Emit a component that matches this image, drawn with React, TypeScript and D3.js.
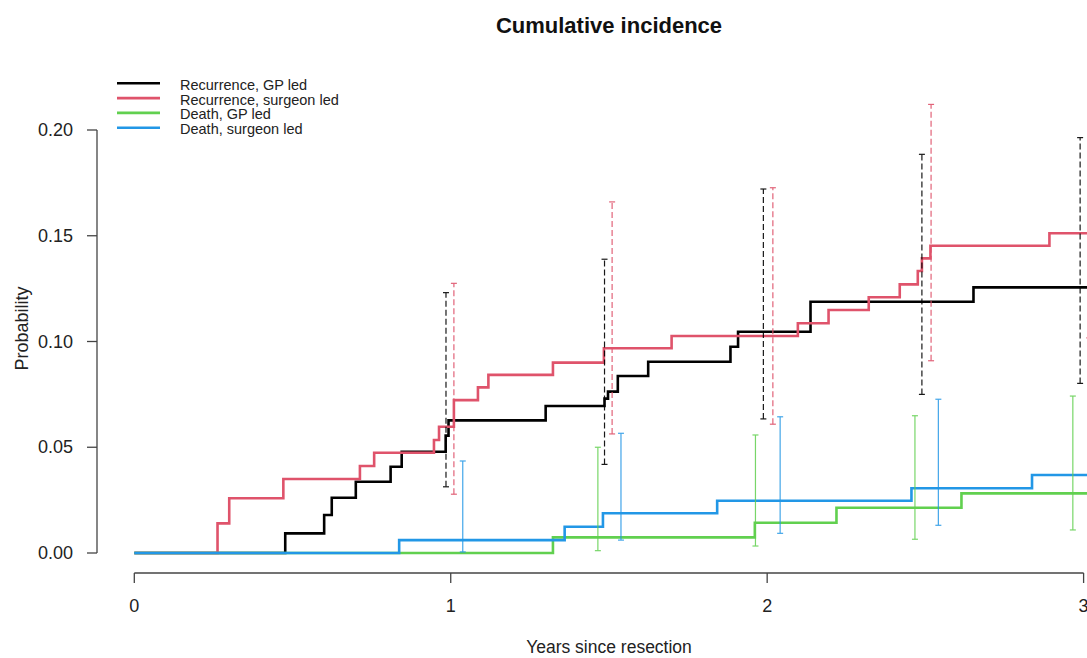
import React from "react";
import * as d3 from "d3";

// ---- Data ----
const seriesNames = ["Recurrence, GP led", "Recurrence, surgeon led", "Death, GP led", "Death, surgeon led"];
const seriesColors = ["#000000", "#DF536B", "#61D04F", "#2297E6"];
const seriesDashed = [true, true, false, false];

// step curves: [time, cumulative incidence]
const recurrenceGP: [number, number][] = [
  [0, 0], [0.477, 0.0093], [0.6, 0.018], [0.624, 0.0261], [0.7, 0.0337], [0.81, 0.0408],
  [0.845, 0.0479], [0.984, 0.0555], [0.993, 0.0627], [1.3, 0.0695], [1.486, 0.073],
  [1.497, 0.0763], [1.528, 0.0837], [1.624, 0.0904], [1.884, 0.0975], [1.908, 0.1046],
  [2.137, 0.1188], [2.652, 0.1256], [3.05, 0.1256],
];
const recurrenceSurgeon: [number, number][] = [
  [0, 0], [0.263, 0.014], [0.3, 0.0259], [0.471, 0.035], [0.713, 0.0411], [0.758, 0.0474],
  [0.947, 0.0534], [0.963, 0.0597], [1.01, 0.0723], [1.086, 0.0783], [1.119, 0.0842],
  [1.323, 0.09], [1.484, 0.0968], [1.698, 0.1026], [2.097, 0.1086], [2.194, 0.1149],
  [2.321, 0.1209], [2.419, 0.127], [2.476, 0.1333], [2.489, 0.1393], [2.516, 0.1453],
  [2.892, 0.1512], [3.05, 0.1512],
];
const deathGP: [number, number][] = [
  [0, 0], [1.323, 0.0074], [1.961, 0.0143], [2.219, 0.0214], [2.614, 0.0282], [3.05, 0.0282],
];
const deathSurgeon: [number, number][] = [
  [0, 0], [0.837, 0.0061], [1.36, 0.0124], [1.481, 0.0188], [1.842, 0.0247], [2.456, 0.0306],
  [2.837, 0.0369], [3.05, 0.0369],
];
const curves = [recurrenceGP, recurrenceSurgeon, deathGP, deathSurgeon];

// confidence intervals: [time, lower, upper]
const ciRecurrenceGP: [number, number, number][] = [
  [0.985, 0.0313, 0.1231], [1.486, 0.0419, 0.1389], [1.988, 0.0634, 0.1721],
  [2.489, 0.075, 0.1885], [2.989, 0.0802, 0.1964],
];
const ciRecurrenceSurgeon: [number, number, number][] = [
  [1.01, 0.0278, 0.1275], [1.51, 0.0563, 0.166], [2.018, 0.0609, 0.1727],
  [2.518, 0.0909, 0.2121], [3.018, 0.1017, 0.27],
];
const ciDeathGP: [number, number, number][] = [
  [0.965, 0, 0], [1.465, 0.0011, 0.05], [1.963, 0.0033, 0.0558],
  [2.467, 0.0065, 0.0649], [2.966, 0.0109, 0.0742],
];
const ciDeathSurgeon: [number, number, number][] = [
  [1.038, 0.0005, 0.0435], [1.538, 0.0061, 0.0566], [2.041, 0.0093, 0.0644],
  [2.541, 0.0131, 0.0727], [3.04, 0.016, 0.08],
];
const cis = [ciRecurrenceGP, ciRecurrenceSurgeon, ciDeathGP, ciDeathSurgeon];

const xTicks = [0, 1, 2, 3];
const yTicks = [0, 0.05, 0.1, 0.15, 0.2];

const W = 1087;
const H = 658;
const FONT = "'Liberation Sans', Arial, sans-serif";

export default function App() {
  const x = d3.scaleLinear().domain([0, 3]).range([134.3, 1083.6]);
  const y = d3.scaleLinear().domain([0, 0.2]).range([553, 130]);
  const line = d3
    .line<[number, number]>()
    .x((d) => x(d[0]))
    .y((d) => y(d[1]))
    .curve(d3.curveStepAfter);

  const yAxisX = 97;
  const xAxisY = 573;
  const capW = 3;

  return (
    <svg
      width={W}
      height={H}
      style={{ position: "absolute", left: 0, top: 0, background: "#fff" }}
      fontFamily={FONT}
    >
      <rect x={0} y={0} width={W} height={H} fill="#fff" />
      {/* Title */}
      <text x={609} y={25} textAnchor="middle" dominantBaseline="central" fontSize={22} fontWeight="bold" fill="#111">
        Cumulative incidence
      </text>

      {/* Curves */}
      {curves.map((c, i) => (
        <path key={"c" + i} d={line(c) || ""} fill="none" stroke={seriesColors[i]} strokeWidth={2.6} />
      ))}

      {/* Error bars */}
      {cis.map((ci, i) => (
        <g key={"ci" + i} stroke={seriesColors[i]} strokeWidth={1.2} opacity={seriesDashed[i] ? 0.9 : 0.85}>
          {ci.map((d, j) => (
            <g key={j}>
              <line
                x1={x(d[0])}
                x2={x(d[0])}
                y1={y(d[1])}
                y2={y(d[2])}
                strokeDasharray={seriesDashed[i] ? "6,3" : undefined}
              />
              <line x1={x(d[0]) - capW} x2={x(d[0]) + capW} y1={y(d[1])} y2={y(d[1])} />
              <line x1={x(d[0]) - capW} x2={x(d[0]) + capW} y1={y(d[2])} y2={y(d[2])} />
            </g>
          ))}
        </g>
      ))}

      {/* Y axis */}
      <g stroke="#444" strokeWidth={1.3} fill="none">
        <line x1={yAxisX} x2={yAxisX} y1={y(0)} y2={y(0.2)} />
        {yTicks.map((t) => (
          <line key={t} x1={yAxisX - 10} x2={yAxisX} y1={y(t)} y2={y(t)} />
        ))}
      </g>
      {yTicks.map((t) => (
        <text key={"yt" + t} x={73} y={y(t)} textAnchor="end" dominantBaseline="central" fontSize={18} fill="#222">
          {d3.format(".2f")(t)}
        </text>
      ))}
      <text
        transform={`translate(22,${y(0.1) - 13}) rotate(-90)`}
        textAnchor="middle"
        dominantBaseline="central"
        fontSize={18}
        fill="#222"
      >
        Probability
      </text>

      {/* X axis */}
      <g stroke="#444" strokeWidth={1.3} fill="none">
        <line x1={x(0)} x2={x(3)} y1={xAxisY} y2={xAxisY} />
        {xTicks.map((t) => (
          <line key={t} x1={x(t)} x2={x(t)} y1={xAxisY} y2={xAxisY + 10} />
        ))}
      </g>
      {xTicks.map((t) => (
        <text key={"xt" + t} x={x(t)} y={606} textAnchor="middle" dominantBaseline="central" fontSize={18} fill="#222">
          {t}
        </text>
      ))}
      <text x={609} y={647} textAnchor="middle" dominantBaseline="central" fontSize={17.5} fill="#222">
        Years since resection
      </text>

      {/* Legend */}
      {seriesNames.map((n, i) => (
        <g key={"lg" + i}>
          <line x1={117} x2={160} y1={83.3 + i * 14.8} y2={83.3 + i * 14.8} stroke={seriesColors[i]} strokeWidth={2.6} />
          <text x={180} y={84.8 + i * 14.8} dominantBaseline="central" fontSize={14.5} fill="#222">
            {n}
          </text>
        </g>
      ))}
    </svg>
  );
}
